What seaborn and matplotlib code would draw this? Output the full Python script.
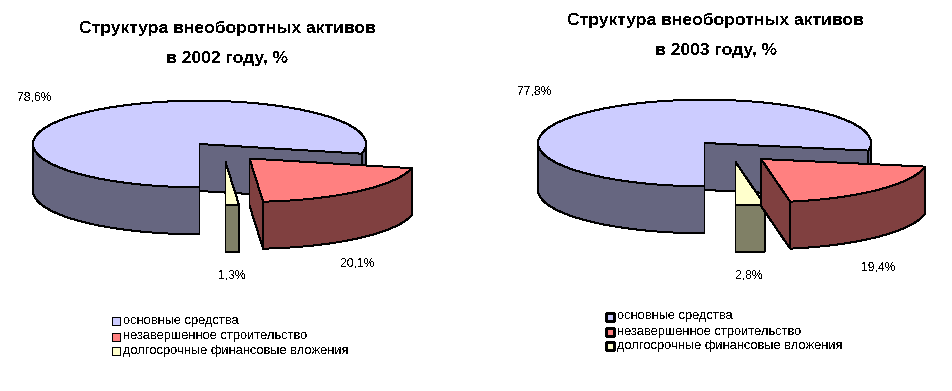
import numpy as np
import matplotlib
matplotlib.use('Agg')
import matplotlib.pyplot as plt
import seaborn as sns
from matplotlib.patches import Polygon, Rectangle

categories = ['основные средства', 'незавершенное строительство', 'долгосрочные финансовые вложения']
years = ['2002', '2003']
values_2002 = [78.6, 20.1, 1.3]
values_2003 = [77.8, 19.4, 2.8]
labels_2002 = ['78,6%', '20,1%', '1,3%']
labels_2003 = ['77,8%', '19,4%', '2,8%']

sns.set_style('white')
plt.rcParams['font.family'] = ['Liberation Sans', 'DejaVu Sans']
plt.rcParams['text.antialiased'] = False
plt.rcParams['text.color'] = 'black'

top_colors = sns.color_palette(['#CCCCFF', '#FF8080', '#FFFFCC'])
wall_colors = sns.color_palette(['#666680', '#804040', '#808066'])

# layout in image pixels, y goes down
RX = 166.5
RY = 43.3
DEPTH = 47


def arc(cx, cy, a0, a1):
    t = np.radians(np.linspace(a0, a1, 120))
    return np.column_stack([cx + RX * np.cos(t), cy - RY * np.sin(t)])


def add_poly(ax, pts, color, lw):
    ax.add_patch(Polygon(pts, closed=True, facecolor=color, edgecolor='black',
                         linewidth=lw, antialiased=False))


def draw_slice(ax, cx, cy, a0, a1, i, lw):
    # a0 > a1, clockwise from a0 to a1, degrees
    down = np.array([0, DEPTH])
    apex = np.array([cx, cy])
    # cut faces first, the rest goes on top of them
    for a in (a0, a1):
        rim = arc(cx, cy, a, a + 0.001)[0]
        add_poly(ax, [apex, rim, rim + down, apex + down], wall_colors[i], lw)
    # outer wall, only the part in front
    for lo, hi in ((180, 360), (-180, 0)):
        s = max(a1, lo)
        e = min(a0, hi)
        if e > s:
            top = arc(cx, cy, s, e)
            add_poly(ax, np.vstack([top, (top + down)[::-1]]), wall_colors[i], lw)
    add_poly(ax, np.vstack([[apex], arc(cx, cy, a0, a1)]), top_colors[i], lw)


def draw_pie(ax, values, cx, cy, offsets, lw):
    angle = 270
    faces = []
    for i, v in enumerate(values):
        sweep = v * 3.6
        faces.append((i, angle, angle - sweep))
        angle -= sweep
    # main slice at the back, then small one, red in front
    for i, a0, a1 in (faces[0], faces[2], faces[1]):
        draw_slice(ax, cx + offsets[i][0], cy + offsets[i][1], a0, a1, i, lw)


fig = plt.figure(figsize=(9.53, 3.91), dpi=100)
ax = fig.add_axes([0, 0, 1, 1])
ax.set_xlim(0, 953)
ax.set_ylim(391, 0)
ax.axis('off')

draw_pie(ax, values_2002, 199.5, 144, [(0, 0), (50, 14.5), (26, 18)], 0.7)
draw_pie(ax, values_2003, 704.5, 143, [(0, 0), (56.5, 16), (31, 19)], 0.7)

title_font = dict(fontsize=12.6, fontweight='bold', ha='center', va='center')
ax.text(227.5, 28, 'Структура внеоборотных активов', **title_font)
ax.text(227.5, 59, 'в %s году, %%' % years[0], **title_font)
ax.text(715.5, 20, 'Структура внеоборотных активов', **title_font)
ax.text(716, 51, 'в %s году, %%' % years[1], **title_font)

label_font = dict(fontsize=8.8, ha='center', va='center')
for lab, x, y in zip(labels_2002, (35, 358, 232), (98, 264, 276)):
    ax.text(x, y, lab, **label_font)
for lab, x, y in zip(labels_2003, (535, 878, 749), (92, 267, 275)):
    ax.text(x, y, lab, **label_font)


def draw_legend(x, ys, lw):
    for name, y, c in zip(categories, ys, top_colors):
        ax.add_patch(Rectangle((x, y - 4), 8, 8, facecolor=c, edgecolor='black',
                               linewidth=lw, antialiased=False))
        ax.text(x + 11, y, name, fontsize=9.3, ha='left', va='center')


draw_legend(112, (321, 336.5, 351), 0.7)
draw_legend(606, (316.5, 331.5, 346), 0.85)

fig.savefig('out.png', dpi=100)
